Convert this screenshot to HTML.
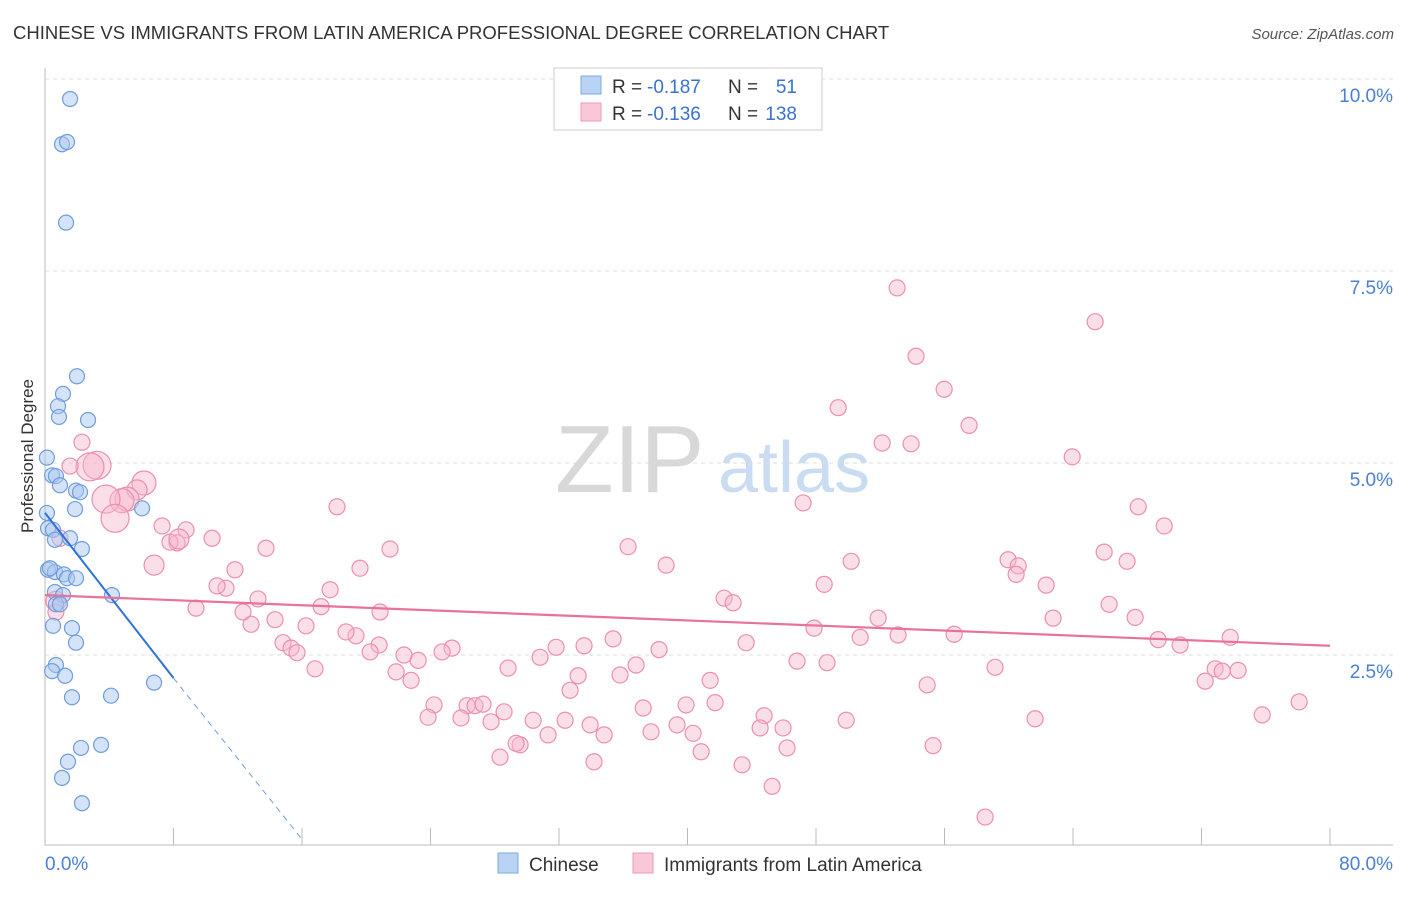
<!DOCTYPE html>
<html><head><meta charset="utf-8"><style>
body{margin:0;background:#fff;font-family:"Liberation Sans",sans-serif;}
svg text{font-family:"Liberation Sans",sans-serif;}
</style></head><body>
<svg id="chart" width="1406" height="892" xmlns="http://www.w3.org/2000/svg">
<text x="13" y="39" font-size="18.5" fill="#333">CHINESE VS IMMIGRANTS FROM LATIN AMERICA PROFESSIONAL DEGREE CORRELATION CHART</text>
<text x="1394" y="39" font-size="15" fill="#555" font-style="italic" text-anchor="end">Source: ZipAtlas.com</text>
<g>
<text x="555" y="492" font-size="96" fill="#d8d8d8" font-family="Liberation Serif, serif">ZIP</text>
<text x="718" y="492" font-size="72" fill="#c9dcf2">atlas</text>
</g>
<g id="grid"></g><g id="axes"></g><g id="marks"></g><g id="lines"></g>
<text transform="translate(33,456) rotate(-90)" font-size="17" fill="#333" text-anchor="middle">Professional Degree</text>
<g>
<rect x="554" y="68" width="268" height="62" fill="#fff" stroke="#ccc"/>
<rect x="581" y="76" width="20" height="18" fill="#b9d3f4" stroke="#7fa8e0"/>
<rect x="581" y="103" width="20" height="18" fill="#f9c7d6" stroke="#ee9ab4"/>
<text x="612" y="93" font-size="19" fill="#333">R =</text>
<text x="647" y="93" font-size="19" fill="#3a72d0">-0.187</text>
<text x="728" y="93" font-size="19" fill="#333">N =</text>
<text x="797" y="93" font-size="19" fill="#3a72d0" text-anchor="end">51</text>
<text x="612" y="120" font-size="19" fill="#333">R =</text>
<text x="647" y="120" font-size="19" fill="#3a72d0">-0.136</text>
<text x="728" y="120" font-size="19" fill="#333">N =</text>
<text x="797" y="120" font-size="19" fill="#3a72d0" text-anchor="end">138</text>
</g>
<g>
<rect x="498" y="853" width="20" height="20" fill="#b9d3f4" stroke="#7fa8e0"/>
<text x="529" y="871" font-size="19" fill="#333">Chinese</text>
<rect x="633" y="853" width="20" height="20" fill="#f9c7d6" stroke="#ee9ab4"/>
<text x="664" y="871" font-size="19" fill="#333">Immigrants from Latin America</text>
</g>
</svg>
<script>
const blueData=[[1.56,9.74],[1.06,9.15],[1.37,9.18],[1.31,8.13],[1.99,6.13],[1.12,5.90],[0.81,5.74],[2.68,5.56],[0.87,5.60],[0.12,5.07],[0.44,4.84],[0.68,4.83],[0.93,4.71],[1.93,4.64],[2.18,4.62],[1.87,4.40],[6.04,4.41],[0.12,4.35],[0.19,4.15],[0.50,4.13],[0.62,4.00],[1.56,4.02],[2.30,3.88],[0.19,3.61],[0.62,3.58],[1.18,3.55],[0.31,3.63],[1.37,3.50],[1.93,3.50],[4.17,3.28],[0.62,3.32],[1.12,3.28],[0.68,3.16],[0.93,3.16],[0.50,2.88],[1.68,2.85],[1.93,2.66],[0.68,2.37],[0.44,2.29],[1.25,2.23],[6.79,2.14],[1.68,1.95],[4.11,1.97],[3.49,1.33],[2.24,1.29],[1.43,1.11],[1.06,0.90],[2.30,0.57]];
const pinkData=[[53.05,7.28],[65.38,6.84],[54.23,6.39],[55.98,5.96],[49.38,5.72],[57.53,5.49],[52.12,5.26],[53.92,5.25],[63.95,5.08],[47.20,4.48],[68.06,4.43],[69.68,4.18],[36.30,3.91],[38.67,3.67],[50.19,3.72],[59.96,3.74],[60.59,3.66],[60.46,3.55],[65.94,3.84],[67.37,3.72],[48.51,3.42],[62.33,3.41],[42.28,3.24],[42.84,3.18],[66.25,3.16],[51.87,2.98],[62.76,2.98],[67.87,2.99],[47.88,2.85],[50.75,2.73],[53.11,2.76],[56.60,2.77],[69.30,2.70],[73.79,2.73],[70.67,2.63],[43.65,2.66],[35.37,2.71],[33.56,2.62],[38.23,2.57],[46.82,2.42],[48.69,2.40],[59.15,2.34],[36.80,2.37],[41.41,2.17],[72.85,2.32],[74.28,2.30],[73.29,2.29],[72.23,2.16],[54.92,2.11],[33.19,2.23],[35.80,2.24],[32.69,2.04],[28.83,2.33],[30.82,2.47],[31.82,2.60],[25.34,2.59],[24.72,2.54],[23.23,2.43],[22.35,2.50],[21.86,2.28],[22.79,2.17],[24.22,1.85],[23.85,1.69],[26.28,1.84],[26.77,1.84],[27.27,1.86],[25.90,1.68],[27.77,1.63],[28.58,1.76],[29.58,1.33],[30.39,1.65],[31.32,1.46],[32.38,1.65],[33.94,1.59],[34.81,1.46],[37.24,1.81],[37.73,1.50],[39.35,1.59],[39.91,1.85],[40.35,1.48],[41.72,1.88],[40.85,1.24],[44.77,1.71],[44.52,1.55],[45.95,1.55],[46.20,1.29],[43.40,1.07],[45.27,0.79],[49.88,1.65],[61.64,1.67],[75.78,1.72],[78.08,1.89],[55.29,1.32],[58.53,0.39],[28.33,1.17],[29.33,1.35],[34.18,1.11],[20.80,2.63],[20.24,2.54],[19.36,2.75],[18.74,2.80],[17.19,3.13],[17.75,3.35],[19.61,3.63],[21.48,3.88],[13.76,3.89],[13.26,3.23],[14.32,2.96],[12.83,2.90],[12.33,3.06],[11.83,3.61],[11.27,3.37],[10.71,3.40],[10.40,4.02],[9.40,3.11],[8.22,3.96],[7.29,4.18],[7.78,3.97],[8.78,4.13],[8.34,4.01],[6.79,3.67],[6.16,4.74],[5.73,4.65],[5.11,4.53],[4.79,4.51],[3.80,4.53],[4.36,4.28],[3.24,4.97],[2.80,4.95],[2.30,5.27],[1.56,4.96],[0.93,4.02],[0.68,3.20],[0.68,3.06],[18.18,4.43],[14.82,2.66],[15.32,2.59],[15.69,2.53],[16.25,2.88],[16.81,2.32],[20.86,3.06]];
const pinkBubbleSize=[0,0,0,0,0,0,0,0,0,0,0,0,0,0,0,0,0,0,0,0,0,0,0,0,0,0,0,0,0,0,0,0,0,0,0,0,0,0,0,0,0,0,0,0,0,0,0,0,0,0,0,0,0,0,0,0,0,0,0,0,0,0,0,0,0,0,0,0,0,0,0,0,0,0,0,0,0,0,0,0,0,0,0,0,0,0,0,0,0,0,0,0,0,0,0,0,0,0,0,0,0,0,0,0,0,0,0,0,0,0,0,0,0,0,0,0,0,0,0,1,1,2,1,2,2,3,3,3,3,0,0,0,1];
const yTicks=[2.5,5,7.5,10];
const yTickLabels=["2.5%","5.0%","7.5%","10.0%"];
const xTicks=[0,8,16,24,32,40,48,56,64,72,80];
const blueTrend=[[0,4.35],[8,2.2]];
const blueTrendExt=[[8,2.2],[16,0.1]];
const pinkTrend=[[0,3.28],[80,2.62]];
const NS="http://www.w3.org/2000/svg";
const X=v=>45+v/80*1285, Y=v=>847-v/10*768;
function mk(p,t,a){const e=document.createElementNS(NS,t);for(const k in a)e.setAttribute(k,a[k]);document.getElementById(p).appendChild(e);return e;}
yTicks.forEach((t,i)=>{
 const g=mk('grid','line',{x1:45,x2:1393,y1:Y(t),y2:Y(t),stroke:'#ddd','stroke-dasharray':'4,4'});
 
 
 const l=mk('grid','text',{x:1393,y:Y(t)+23,'font-size':19,fill:'#4a7fd4','text-anchor':'end'});l.textContent=yTickLabels[i];
 
 
});
const ax=mk('axes','path',{d:`M45,68V845H1393`,stroke:'#bbb',fill:'none'});


xTicks.forEach(t=>{if(t===0)return;const e=mk('axes','line',{x1:X(t),x2:X(t),y1:828,y2:845,stroke:'#bbb'});
 
 });
const xl0=mk('axes','text',{x:45,y:870,'font-size':19,fill:'#4a7fd4'});xl0.textContent='0.0%';


const xl1=mk('axes','text',{x:1393,y:870,'font-size':19,fill:'#4a7fd4','text-anchor':'end'});xl1.textContent='80.0%';


pinkData.forEach((d,i)=>{const c=mk('marks','circle',{cx:X(d[0]),cy:Y(d[1]),r:8+(pinkBubbleSize[i]||0)*2,fill:'#f7b8cb',"fill-opacity":0.45,stroke:'#ec8fae','stroke-width':1.2});
 
 });
blueData.forEach(d=>{const c=mk('marks','circle',{cx:X(d[0]),cy:Y(d[1]),r:7.5,fill:'#aac8f0',"fill-opacity":0.5,stroke:'#6f9ddc','stroke-width':1.2});
 
 });
const bl=mk('lines','line',{x1:X(blueTrend[0][0]),y1:Y(blueTrend[0][1]),x2:X(blueTrend[1][0]),y2:Y(blueTrend[1][1]),stroke:'#2f72d8','stroke-width':2});


const be=mk('lines','line',{x1:X(blueTrendExt[0][0]),y1:Y(blueTrendExt[0][1]),x2:X(blueTrendExt[1][0]),y2:Y(blueTrendExt[1][1]),stroke:'#6f9ddc','stroke-width':1,'stroke-dasharray':'6,5'});


const pl=mk('lines','line',{x1:X(pinkTrend[0][0]),y1:Y(pinkTrend[0][1]),x2:X(pinkTrend[1][0]),y2:Y(pinkTrend[1][1]),stroke:'#e8729a','stroke-width':2.2});


</script>
</body></html>
